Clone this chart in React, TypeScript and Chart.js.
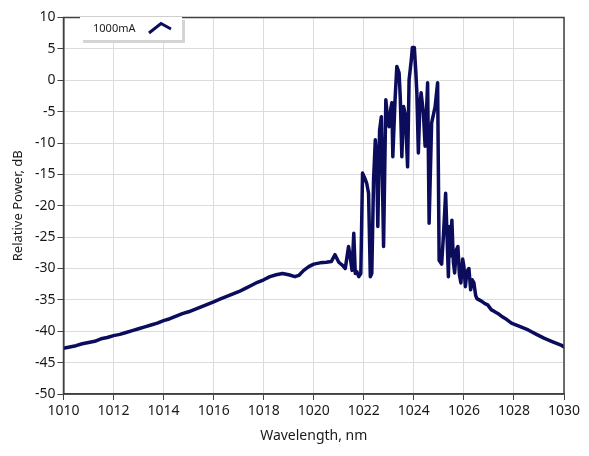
import React, { useEffect, useRef } from "react";
import { Chart, registerables } from "chart.js";

Chart.register(...registerables);

const seriesLabel = "1000mA";

const wavelength: number[] = [
  1010.0, 1010.25, 1010.5, 1010.75, 1011.0, 1011.25, 1011.5, 1011.75, 1012.0, 1012.25,
  1012.5, 1012.75, 1013.0, 1013.25, 1013.5, 1013.75, 1014.0, 1014.25, 1014.5, 1014.75,
  1015.0, 1015.25, 1015.5, 1015.75, 1016.0, 1016.25, 1016.5, 1016.75, 1017.0, 1017.25,
  1017.5, 1017.75, 1018.0, 1018.25, 1018.5, 1018.75, 1019.0, 1019.25, 1019.4, 1019.6,
  1019.8, 1020.0, 1020.25, 1020.5, 1020.7, 1020.85, 1021.0, 1021.15, 1021.26, 1021.39,
  1021.45, 1021.53, 1021.6, 1021.66, 1021.72, 1021.8, 1021.88, 1021.95, 1022.06, 1022.12,
  1022.19, 1022.26, 1022.32, 1022.39, 1022.46, 1022.51, 1022.56, 1022.63, 1022.7, 1022.79,
  1022.88, 1022.95, 1023.01, 1023.08, 1023.12, 1023.16, 1023.25, 1023.32, 1023.41, 1023.46,
  1023.52, 1023.59, 1023.66, 1023.75, 1023.81, 1023.9, 1023.94, 1024.02, 1024.08, 1024.12,
  1024.18, 1024.24, 1024.29, 1024.38, 1024.45, 1024.55, 1024.61, 1024.71, 1024.78, 1024.85,
  1024.95, 1025.01, 1025.11, 1025.18, 1025.27, 1025.32, 1025.38, 1025.42, 1025.47, 1025.52,
  1025.58, 1025.63, 1025.7, 1025.76, 1025.82, 1025.88, 1025.95, 1026.0, 1026.06, 1026.12,
  1026.2, 1026.27, 1026.33, 1026.4, 1026.47, 1026.52, 1026.7, 1026.84, 1026.95, 1027.1,
  1027.2, 1027.37, 1027.5, 1027.7, 1027.9, 1028.2, 1028.57, 1028.9, 1029.2, 1029.5,
  1029.88, 1030.0,
];

const relativePower: number[] = [
  -42.7, -42.5, -42.3, -42.0, -41.8, -41.6, -41.2, -41.0, -40.7, -40.5,
  -40.2, -39.9, -39.6, -39.3, -39.0, -38.7, -38.3, -38.0, -37.6, -37.2,
  -36.9, -36.5, -36.1, -35.7, -35.3, -34.9, -34.5, -34.1, -33.7, -33.2,
  -32.7, -32.2, -31.8, -31.3, -31.0, -30.8, -31.0, -31.3, -31.1, -30.3,
  -29.7, -29.3, -29.1, -29.0, -28.9, -27.8, -29.0, -29.5, -30.0, -26.5,
  -28.0, -30.3, -24.4, -30.8, -30.5, -31.3, -30.8, -14.8, -15.8, -16.5,
  -18.0, -31.3, -30.8, -15.9, -9.5, -12.0, -23.3, -8.0, -5.8, -26.5,
  -3.1, -6.0, -7.4, -4.5, -3.6, -12.2, -3.0, 2.2, 1.2, -3.0,
  -12.2, -4.2, -5.5, -13.8, 0.1, 3.3, 5.2, 5.2, 1.2, -2.0,
  -11.6, -4.0, -2.0, -5.2, -10.5, -0.4, -22.8, -6.8, -5.5, -4.2,
  -0.4, -28.7, -29.3, -24.9, -18.0, -24.0, -31.3, -23.3, -28.0, -22.3,
  -29.0, -30.7, -27.0, -26.5, -31.0, -32.3, -28.5, -29.7, -32.9, -30.5,
  -30.0, -33.4, -31.8, -32.3, -34.3, -34.8, -35.2, -35.6, -35.8, -36.6,
  -36.8, -37.2, -37.6, -38.1, -38.7, -39.2, -39.8, -40.5, -41.1, -41.6,
  -42.2, -42.5,
];

const xTicks: number[] = [1010, 1012, 1014, 1016, 1018, 1020, 1022, 1024, 1026, 1028, 1030];
const yTicks: number[] = [-50, -45, -40, -35, -30, -25, -20, -15, -10, -5, 0, 5, 10];

const LINE = "#0c0c5c";
const FONT = "'Noto Sans', 'Open Sans', sans-serif";

const framePlugin = {
  id: "frameAndLegend",
  afterDraw(chart: any) {
    const { ctx, chartArea } = chart;
    ctx.save();
    ctx.strokeStyle = "#404040";
    ctx.lineWidth = 1.5;
    ctx.strokeRect(chartArea.left, chartArea.top, chartArea.right - chartArea.left, chartArea.bottom - chartArea.top);

    // legend box
    const lx = 80, ly = 17, lw = 102, lh = 23;
    ctx.fillStyle = "#d4d4d4";
    ctx.fillRect(lx + 3, ly + 3, lw, lh);
    ctx.fillStyle = "#ffffff";
    ctx.fillRect(lx, ly, lw, lh);
    ctx.fillStyle = "#1a1a1a";
    ctx.font = "11px " + FONT;
    ctx.textBaseline = "middle";
    ctx.textAlign = "left";
    ctx.fillText(chart.data.datasets[0].label, 93, 29);
    ctx.strokeStyle = LINE;
    ctx.lineWidth = 3;
    ctx.lineJoin = "miter";
    ctx.beginPath();
    ctx.moveTo(149, 33);
    ctx.lineTo(161, 23.5);
    ctx.lineTo(171, 29);
    ctx.stroke();
    ctx.restore();
  },
};

export default function App() {
  const ref = useRef<HTMLCanvasElement | null>(null);

  useEffect(() => {
    document.body.style.margin = "0";
    const canvas = ref.current;
    if (!canvas) return;
    const points = wavelength.map((x, i) => ({ x, y: relativePower[i] }));
    const chart = new Chart(canvas, {
      type: "line",
      data: {
        datasets: [
          {
            label: seriesLabel,
            data: points,
            borderColor: LINE,
            backgroundColor: LINE,
            borderWidth: 3.5,
            pointRadius: 0,
            tension: 0,
            borderJoinStyle: "round",
            borderCapStyle: "round",
          },
        ],
      },
      options: {
        responsive: false,
        animation: false,
        layout: { padding: { top: 17.5, right: 25, left: 0, bottom: 0 } },
        plugins: { legend: { display: false }, tooltip: { enabled: false } },
        scales: {
          x: {
            type: "linear",
            min: 1010,
            max: 1030,
            afterBuildTicks: (axis: any) => {
              axis.ticks = xTicks.map((v) => ({ value: v }));
            },
            afterFit: (axis: any) => {
              axis.height = 62;
            },
            grid: { color: "#dcdcdc", lineWidth: 1, tickLength: 6, tickColor: "#404040", drawTicks: true },
            border: { display: true, color: "#404040", width: 1.5 },
            ticks: {
              color: "#1a1a1a",
              font: { family: FONT, size: 14 },
              padding: 3,
              maxRotation: 0,
              autoSkip: false,
              callback: (v: any) => String(v),
            },
            title: { display: true, text: "Wavelength, nm", color: "#1a1a1a", font: { family: FONT, size: 14 }, padding: { top: 4, bottom: 12 } },
          },
          y: {
            type: "linear",
            min: -50,
            max: 10,
            afterBuildTicks: (axis: any) => {
              axis.ticks = yTicks.map((v) => ({ value: v }));
            },
            afterFit: (axis: any) => {
              axis.width = 63.5;
            },
            grid: { color: "#dcdcdc", lineWidth: 1, tickLength: 6, tickColor: "#404040", drawTicks: true },
            border: { display: true, color: "#404040", width: 1.5 },
            ticks: { color: "#1a1a1a", font: { family: FONT, size: 14 }, padding: 2, autoSkip: false, callback: (v: any) => String(v) },
            title: { display: true, text: "Relative Power, dB", color: "#1a1a1a", font: { family: FONT, size: 13 }, padding: { top: 10, bottom: 0 } },
          },
        },
      },
      plugins: [framePlugin],
    });
    return () => chart.destroy();
  }, []);

  return (
    <div style={{ width: 589, height: 456, background: "#ffffff" }}>
      <canvas ref={ref} width={589} height={456} style={{ width: 589, height: 456, display: "block" }} />
    </div>
  );
}
